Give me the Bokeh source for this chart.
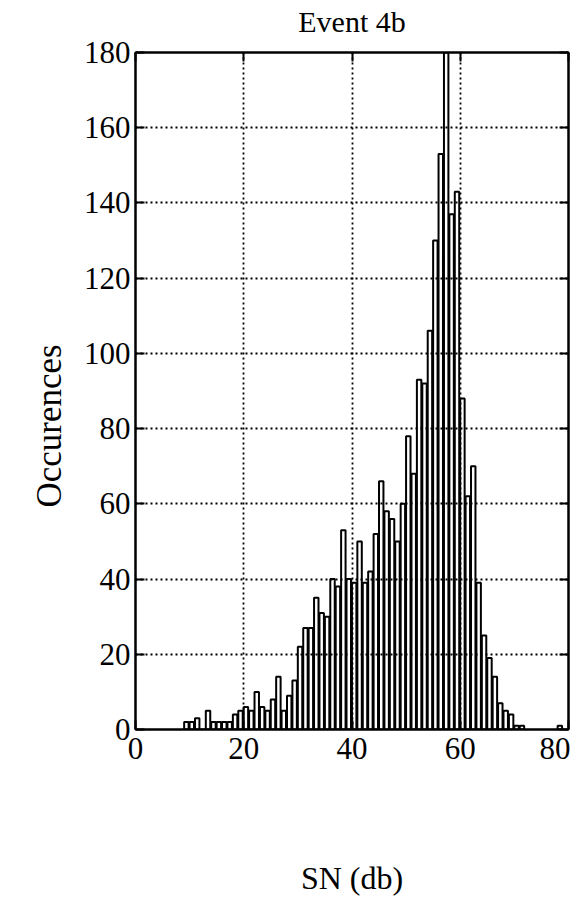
from bokeh.plotting import figure
from bokeh.models import LinearAxis, Range1d, FixedTicker, ColumnDataSource, Title
from bokeh.embed import file_html
from bokeh.resources import INLINE

# SN bins (dB, left edge) and occurrence counts
sn_bins = [9, 10, 11, 12, 13, 14, 15, 16, 17, 18, 19, 20, 21, 22, 23, 24, 25, 26, 27, 28,
           29, 30, 31, 32, 33, 34, 35, 36, 37, 38, 39, 40, 41, 42, 43, 44, 45, 46, 47, 48,
           49, 50, 51, 52, 53, 54, 55, 56, 57, 58, 59, 60, 61, 62, 63, 64, 65, 66, 67, 68,
           69, 70, 71, 78]
counts = [2, 2, 3, 0, 5, 2, 2, 2, 2, 4, 5, 6, 5, 10, 6, 5, 8, 14, 5, 9,
          13, 22, 27, 27, 35, 31, 30, 40, 38, 53, 40, 39, 50, 39, 42, 52, 66, 58, 56, 50,
          60, 78, 68, 93, 92, 106, 130, 153, 195, 137, 143, 88, 62, 70, 39, 25, 19, 14, 7, 5,
          4, 1, 1, 1]

x_ticks = [0, 20, 40, 60, 80]
y_ticks = [0, 20, 40, 60, 80, 100, 120, 140, 160, 180]
title_text = "Event 4b"

FONT = "Liberation Serif"

src = ColumnDataSource(dict(x=[b + 0.4 for b in sn_bins], top=counts))

p = figure(width=570, height=898, output_backend="svg", toolbar_location=None,
           x_range=Range1d(0, 80), y_range=Range1d(0, 180),
           min_border_left=135, min_border_right=2, min_border_top=52, min_border_bottom=160,
           x_axis_label="SN (db)")

# y-axis title placed on the left, shifted along the axis like the reference
p.add_layout(Title(text="Occurences", align="left", offset=222, text_font=FONT,
                   text_font_size="35px", text_font_style="normal", text_color="black",
                   standoff=24), "left")

p.vbar(x="x", top="top", width=0.82, bottom=0, source=src,
       fill_alpha=0, line_color="black", line_width=2)

# grid
for g, t in ((p.xgrid, x_ticks), (p.ygrid, y_ticks)):
    g.ticker = FixedTicker(ticks=t)
    g.grid_line_color = "black"
    g.grid_line_dash = "2 3"
    g.grid_line_width = 1.8

p.outline_line_color = "black"
p.outline_line_width = 2
p.background_fill_color = "white"
p.border_fill_color = "white"

# extra axes for ticks on top and right; the top one carries the chart title
p.add_layout(LinearAxis(), "right")
p.add_layout(LinearAxis(axis_label=title_text), "above")

for ax in p.xaxis:
    ax.ticker = FixedTicker(ticks=x_ticks)
for ax in p.yaxis:
    ax.ticker = FixedTicker(ticks=y_ticks)

for ax in p.axis:
    ax.axis_line_color = "black"
    ax.axis_line_width = 2
    ax.major_tick_in = 9
    ax.major_tick_out = 0
    ax.major_tick_line_width = 2
    ax.major_tick_line_color = "black"
    ax.minor_tick_line_color = None
    ax.major_label_text_font = FONT
    ax.major_label_text_font_size = "31px"
    ax.major_label_text_color = "black"
    ax.axis_label_text_font = FONT
    ax.axis_label_text_font_size = "32px"
    ax.axis_label_text_font_style = "normal"
    ax.axis_label_text_color = "black"

# hide labels on top/right axes
p.right[0].major_label_text_font_size = "0px"
p.right[0].major_label_standoff = 0
p.above[0].major_label_text_font_size = "0px"
p.above[0].major_label_standoff = 0
p.above[0].axis_label_text_font_size = "30px"
p.above[0].axis_label_standoff = 15

p.below[0].major_label_standoff = 8
p.below[0].axis_label_standoff = 98
p.left[0].major_label_standoff = 5

open("out.html", "w").write(file_html(p, INLINE))
